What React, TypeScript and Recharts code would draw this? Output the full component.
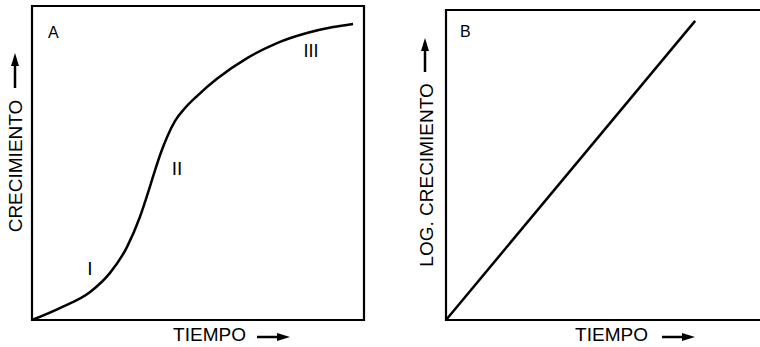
import React from "react";
import { LineChart, Line, XAxis, YAxis, ReferenceArea, Customized } from "recharts";

// Panel A: sigmoid growth curve (CRECIMIENTO vs TIEMPO)
const growthTime = [0, 8.4, 17.5, 23.5, 28.6, 32.5, 35.5, 37.0, 38.9, 40.7, 43.1, 46.1, 49.7, 55.7, 64.8, 73.8, 82.8, 90.7, 96.7];
const growthValue = [0, 3.8, 8.9, 15.0, 23.2, 32.8, 42.4, 47.5, 53.5, 58.3, 63.4, 67.5, 71.3, 76.8, 83.4, 88.2, 91.4, 93.3, 94.3];

// Panel B: log growth is linear in time
const logTime = [0, 75.5];
const logValue = [0, 96.5];

const phaseLabels = ["I", "II", "III"];
const panelLabels = ["A", "B"];
const xTitle = "TIEMPO";
const yTitleA = "CRECIMIENTO";
const yTitleB = "LOG. CRECIMIENTO";

const dataA = growthTime.map((t, i) => ({ x: t, y: growthValue[i] }));
const dataB = logTime.map((t, i) => ({ x: t, y: logValue[i] }));

const FONT = "'Liberation Sans', Arial, Helvetica, sans-serif";

const HArrow = ({ x1, x2, y }: { x1: number; x2: number; y: number }) => (
  <g>
    <line x1={x1} y1={y} x2={x2 - 10} y2={y} stroke="#000" strokeWidth={2.5} />
    <polygon points={`${x2 - 13},${y - 4} ${x2},${y} ${x2 - 13},${y + 4}`} fill="#000" />
  </g>
);

const VArrow = ({ x, y1, y2 }: { x: number; y1: number; y2: number }) => (
  <g>
    <line x1={x} y1={y1} x2={x} y2={y2 + 10} stroke="#000" strokeWidth={2.5} />
    <polygon points={`${x - 4},${y2 + 13} ${x},${y2} ${x + 4},${y2 + 13}`} fill="#000" />
  </g>
);

const OverlayA = () => (
  <g fontFamily={FONT} fill="#000">
    <text x={48} y={38} fontSize={16}>{panelLabels[0]}</text>
    <text x={90} y={275} fontSize={19} textAnchor="middle">{phaseLabels[0]}</text>
    <text x={177} y={175} fontSize={19} textAnchor="middle">{phaseLabels[1]}</text>
    <text x={311} y={57} fontSize={18} textAnchor="middle">{phaseLabels[2]}</text>
    <text x={209.5} y={341} fontSize={19} textAnchor="middle">{xTitle}</text>
    <HArrow x1={257} x2={290} y={337} />
    <text x={22} y={166} fontSize={19} textAnchor="middle" transform="rotate(-90, 22, 166)">{yTitleA}</text>
    <VArrow x={15} y1={88} y2={53} />
  </g>
);

const OverlayB = () => (
  <g fontFamily={FONT} fill="#000">
    <text x={80} y={37} fontSize={16}>{panelLabels[1]}</text>
    <text x={231.5} y={341} fontSize={19} textAnchor="middle">{xTitle}</text>
    <HArrow x1={282} x2={315} y={337} />
    <text x={53} y={175} fontSize={19} textAnchor="middle" transform="rotate(-90, 53, 175)">{yTitleB}</text>
    <VArrow x={45} y1={72} y2={38} />
  </g>
);

export default function App() {
  return (
    <div
      style={{
        position: "absolute",
        left: 0,
        top: 0,
        width: 760,
        height: 347,
        overflow: "hidden",
        background: "#fff",
      }}
    >
      <div style={{ position: "absolute", left: 0, top: 0 }}>
        <LineChart width={380} height={347} data={dataA} margin={{ top: 6, left: 32, right: 16, bottom: 27 }}>
          <XAxis type="number" dataKey="x" domain={[0, 100]} hide />
          <YAxis type="number" domain={[0, 100]} hide />
          <ReferenceArea x1={0} x2={100} y1={0} y2={100} fill="none" fillOpacity={0} stroke="#000" strokeWidth={2.2} />
          <Line
            dataKey="y"
            type="monotone"
            stroke="#000"
            strokeWidth={2.5}
            dot={false}
            activeDot={false}
            isAnimationActive={false}
          />
          <Customized component={OverlayA} />
        </LineChart>
      </div>
      <div style={{ position: "absolute", left: 380, top: 0 }}>
        <LineChart width={400} height={347} data={dataB} margin={{ top: 10, left: 66, right: 4, bottom: 27 }}>
          <XAxis type="number" dataKey="x" domain={[0, 100]} hide />
          <YAxis type="number" domain={[0, 100]} hide />
          <ReferenceArea x1={0} x2={100} y1={0} y2={100} fill="none" fillOpacity={0} stroke="#000" strokeWidth={2.2} />
          <Line
            dataKey="y"
            type="linear"
            stroke="#000"
            strokeWidth={2.5}
            dot={false}
            activeDot={false}
            isAnimationActive={false}
          />
          <Customized component={OverlayB} />
        </LineChart>
      </div>
    </div>
  );
}
